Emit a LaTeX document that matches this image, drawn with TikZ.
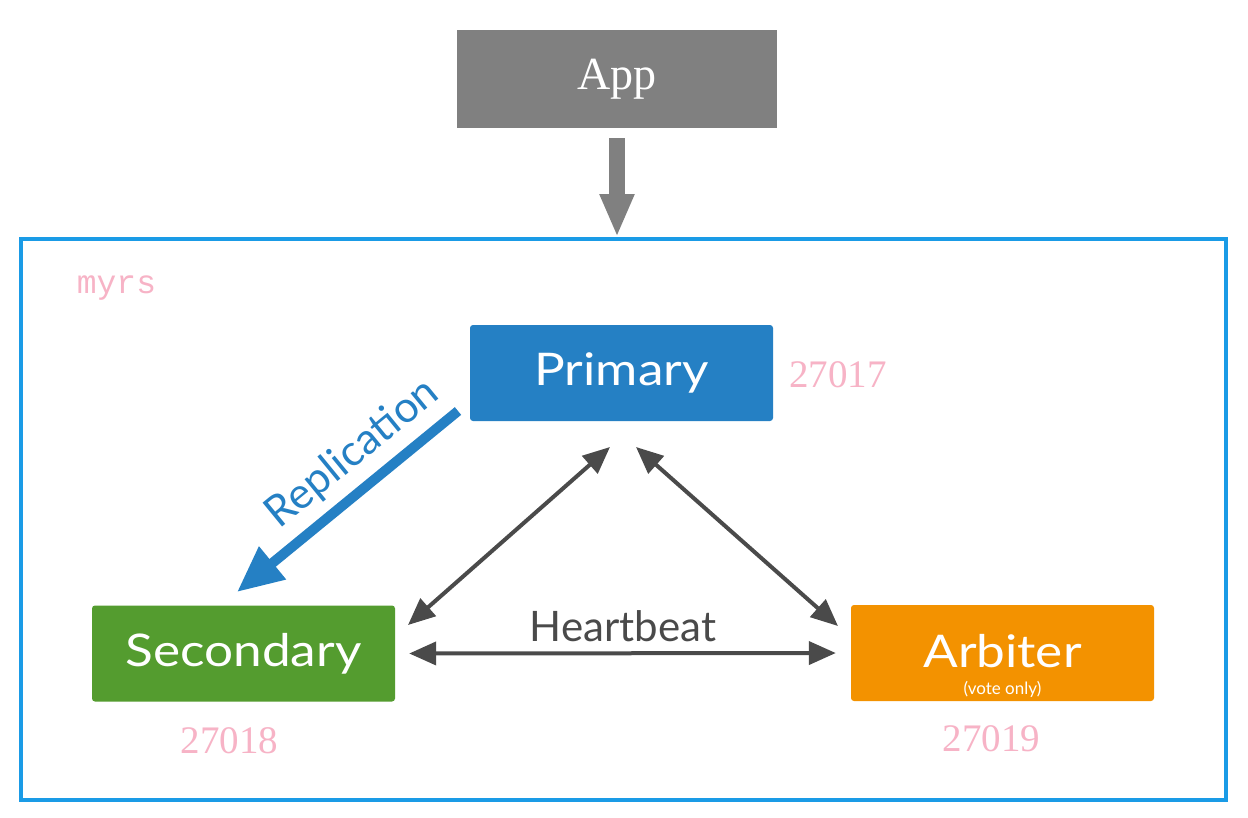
\documentclass[tikz,border=0pt]{standalone}
\usepackage{fontspec}
\setmainfont{Lato}
\newfontfamily\boxfont[FakeStretch=1.14]{Lato}
\newfontfamily\seriffont{Liberation Serif}
\newfontfamily\monofont{Liberation Mono}
\usetikzlibrary{arrows.meta}
\definecolor{appgray}{HTML}{808080}
\definecolor{primblue}{HTML}{2580C4}
\definecolor{secgreen}{HTML}{549C2F}
\definecolor{arborange}{HTML}{F39200}
\definecolor{framecol}{HTML}{1A9BE6}
\definecolor{pinkcol}{HTML}{F7B3C6}
\definecolor{hbgray}{HTML}{4A4A4A}
\begin{document}
\begin{tikzpicture}[x=1pt,y=-1pt,
  box/.style={rectangle, rounded corners=3pt, minimum width=303pt, minimum height=96pt, inner sep=0pt, text=white, font=\boxfont\fontsize{45}{45}\selectfont},
  portlbl/.style={text=pinkcol, font=\seriffont\fontsize{39}{39}\selectfont, inner sep=0pt, anchor=base},
  hb/.style={draw=hbgray, line width=4pt, {Triangle[length=27pt,width=23pt]}-{Triangle[length=27pt,width=23pt]}},
  repl/.style={draw=primblue, line width=10pt, -{Triangle[length=46pt,width=40pt]}},
  apparrow/.style={draw=appgray, line width=16pt, -{Triangle[length=43pt,width=32pt]}},
  frame/.style={draw=framecol, line width=4pt, minimum width=1205pt, minimum height=561pt, inner sep=0pt}
]
\useasboundingbox[fill=white] (0,0) rectangle (1248,817);

\node[frame] (rs) at (623.5,519.5) {};
\node[box, fill=appgray, rounded corners=0pt, minimum width=320pt, minimum height=98pt, font=\seriffont\fontsize{46}{46}\selectfont] (app) at (617,79) {App};
\node[box, fill=primblue] (prim) at (621.5,373) {Primary};
\node[box, fill=secgreen] (sec) at (243.5,653.5) {Secondary};
\node[box, fill=arborange] (arb) at (1002.5,653) {\raisebox{4pt}{Arbiter}};
\node[text=white, font=\fontsize{17}{17}\selectfont, inner sep=0pt] (vote) at (1002.5,689) {(vote only)};

\node[text=pinkcol, font=\monofont\fontsize{33}{33}\selectfont, inner sep=0pt, anchor=base] (myrs) at (116.5,293) {myrs};
\node[portlbl] (p1) at (838,387) {27017};
\node[portlbl] (p2) at (229.5,753) {27018};
\node[portlbl] (p3) at (991.5,751) {27019};

\coordinate (apptip) at (app.south |- rs.north);
\draw[apparrow, shorten <=10pt] (app.south) -- (apptip);

\coordinate (rs1) at (458,411);
\coordinate (rs2) at (237,592);
\draw[repl] (rs1) -- node[pos=0.38, sloped, above=9pt, inner sep=0pt, text=primblue, font=\fontsize{43}{43}\selectfont] (repltxt) {Replication} (rs2);

\coordinate (sp) at (408,625);
\coordinate (ps) at (610,447);
\coordinate (pa) at (636,447);
\coordinate (ap) at (838,626);
\draw[hb] (sp) -- (ps);
\draw[hb] (pa) -- (ap);
\draw[hb, shorten <=14pt, shorten >=15pt] (sec.east) -- node[above=9pt, text=hbgray, font=\fontsize{42}{42}\selectfont, inner sep=0pt] (hbtxt) {Heartbeat} (arb.west);
\end{tikzpicture}
\end{document}
